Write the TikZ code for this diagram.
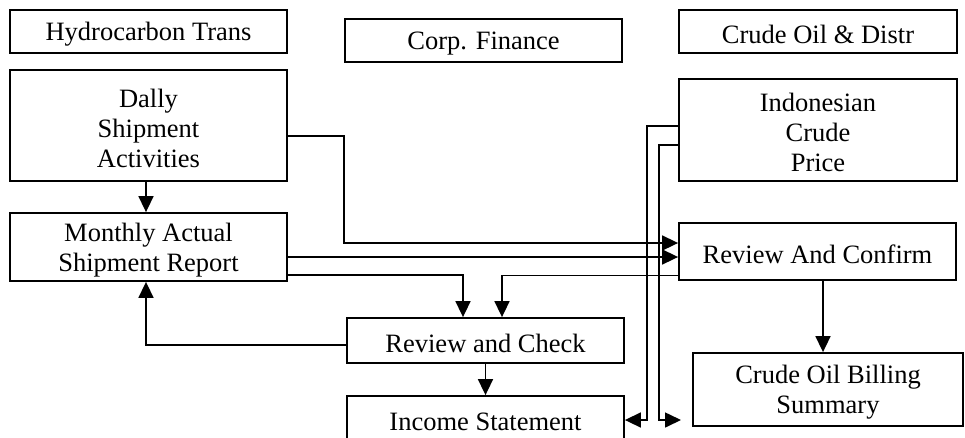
\documentclass[tikz,border=0pt]{standalone}
\usepackage{fontspec}
\setmainfont{Liberation Serif}
\usetikzlibrary{arrows.meta}
\newcommand{\mystrut}{\rule{0pt}{24pt}}
\begin{document}
\begin{tikzpicture}[x=1pt,y=-1pt,
  box/.style={draw=black, line width=1.8pt, inner sep=0pt, align=center,
    font=\fontsize{26.5}{30}\selectfont},
  arr/.style={line width=1.6pt, -{Triangle[length=16pt,width=15pt]}}]
\clip (0,0) rectangle (965,437);
\useasboundingbox (0,0) rectangle (965,437);
% swimlane headers
\node[box, minimum width=277pt, minimum height=43pt] (ht) at (148.5,31.5) {\mystrut Hydrocarbon Trans};
\node[box, minimum width=277pt, minimum height=43pt] (cf) at (483.5,40.5) {\mystrut Corp. Finance};
\node[box, minimum width=278pt, minimum height=43pt] (cod) at (818,31.5) {\mystrut Crude Oil \& Distr};
% process boxes
\node[box, minimum width=277pt, minimum height=111pt] (dsa) at (148.5,125.5) {\mystrut Dally\\Shipment\\Activities};
\node[box, minimum width=278pt, minimum height=102pt] (icp) at (818,130) {\mystrut Indonesian\\Crude\\Price};
\node[box, minimum width=277pt, minimum height=68pt] (masr) at (148.5,247) {\mystrut Monthly Actual\\Shipment Report};
\node[box, minimum width=277pt, minimum height=57pt] (rac) at (817.5,251.5) {\mystrut Review And Confirm};
\node[box, minimum width=277pt, minimum height=45pt] (rck) at (485.5,340.5) {\mystrut Review and Check};
\node[box, minimum width=277pt, minimum height=45pt] (is) at (485.5,418.5) {\mystrut Income Statement};
\node[box, minimum width=270pt, minimum height=73pt] (cobs) at (828,389.5) {\mystrut Crude Oil Billing\\Summary};
\coordinate (e10) at (681,420);
% connectors
\draw[arr] ([xshift=-2.5pt]dsa.south) -- ([xshift=-2.5pt]masr.north);
\draw[arr] ([yshift=-10.5pt]dsa.east) -| (344,243) -- ([yshift=8.5pt]rac.west);
\draw[arr] ([yshift=-10pt]masr.east) -- ([yshift=-10pt]masr.east -| rac.west);
\draw[arr] ([yshift=-28pt]masr.east) -| ([xshift=-22.5pt]rck.north);
\draw[arr] ([yshift=-24pt]rac.west) -| ([xshift=16.5pt]rck.north);
\draw[arr] ([yshift=-4.5pt]rck.west) -| ([xshift=-2.5pt]masr.south);
\draw[arr] (rck.south) -- (is.north);
\draw[arr] ([xshift=5.5pt]rac.south) -- ([xshift=5.5pt]rac.south |- cobs.north);
\draw[arr] ([yshift=4pt]icp.west) -| (647,420) -- (is.east |- 647,420);
\draw[arr] ([yshift=-15pt]icp.west) -| (659,420) -- (e10);
\end{tikzpicture}
\end{document}
